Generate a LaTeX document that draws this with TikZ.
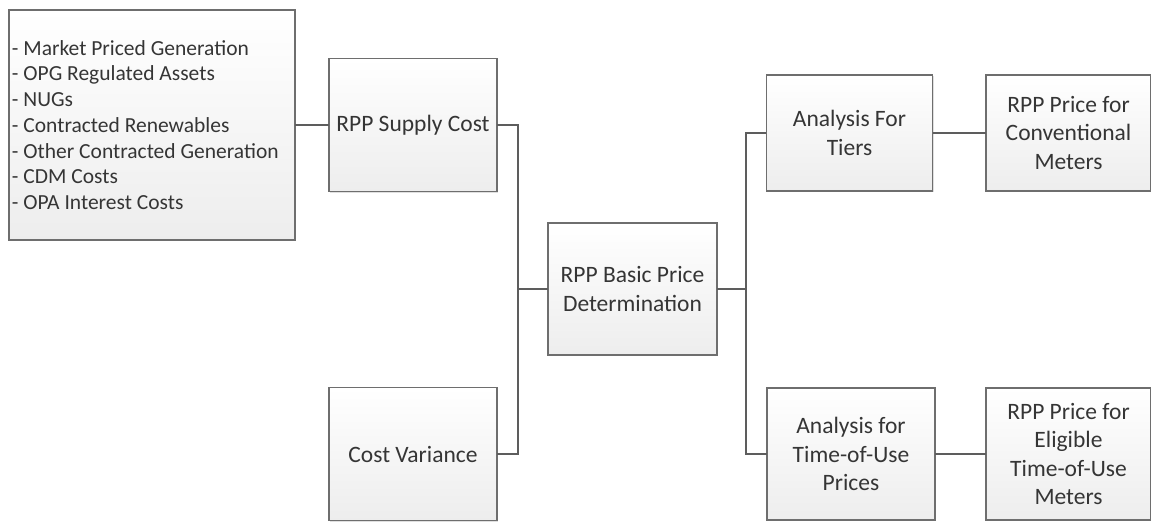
\documentclass[tikz,border=0pt]{standalone}
\usepackage{fontspec}
\setmainfont{Carlito}
\usetikzlibrary{shadows}
\definecolor{boxline}{HTML}{6E6E6E}
\definecolor{boxtext}{HTML}{353535}
\tikzset{help box/.style={draw=boxline,line width=1.8pt,top color=white,bottom color=black!7,
		 drop shadow={shadow xshift=1.2pt,shadow yshift=-1.2pt,opacity=.25},
		 text=boxtext,align=center,inner sep=2pt,
		 font=\fontsize{23.5}{28.5}\selectfont},
		 list box/.style={help box,align=flush left,inner xsep=3pt,text width=280pt,
		 font=\fontsize{21.5}{25.7}\selectfont},
		 link/.style={draw=boxline!85!black,line width=1.6pt}}

\begin{document}
\begin{tikzpicture}[x=1pt,y=-1pt,line cap=rect]
	\useasboundingbox (0,0) rectangle (1151,522);

	\node[list box,minimum height=230pt] (list) at (152,125)
		{- Market Priced Generation\\
		 - OPG Regulated Assets\\
		 - NUGs\\
		 - Contracted Renewables\\
		 - Other Contracted Generation\\
		 - CDM Costs\\
		 - OPA Interest Costs};
	\node[help box,minimum width=168pt,minimum height=133pt] (supply) at (413,125) {RPP Supply Cost};
	\node[help box,minimum width=168pt,minimum height=133pt] (cost) at (413,454) {Cost Variance};
	\node[help box,minimum width=169pt,minimum height=132pt] (basic) at (632.5,289) {RPP Basic Price\\Determination};
	\node[help box,minimum width=166pt,minimum height=116pt] (tiers) at (849.5,133) {Analysis For\\Tiers};
	\node[help box,minimum width=165pt,minimum height=116pt] (conv) at (1068.5,133) {RPP Price for\\Conventional\\Meters};
	\node[help box,minimum width=168pt,minimum height=132pt] (tou) at (851,454) {Analysis for\\Time-of-Use\\Prices};
	\node[help box,minimum width=165pt,minimum height=132pt] (elig) at (1068.5,454) {RPP Price for\\Eligible\\Time-of-Use\\Meters};

	\coordinate (jl) at (518,289);
	\coordinate (jr) at (746,289);

	\draw[link] (list.east) -- (supply.west);
	\draw[link] (supply.east) -| (jl);
	\draw[link] (cost.east) -| (jl);
	\draw[link] (jl) -- (basic.west);
	\draw[link] (basic.east) -- (jr);
	\draw[link] (jr) |- (tiers.west);
	\draw[link] (jr) |- (tou.west);
	\draw[link] (tiers.east) -- (conv.west);
	\draw[link] (tou.east) -- (elig.west);
\end{tikzpicture}
\end{document}
